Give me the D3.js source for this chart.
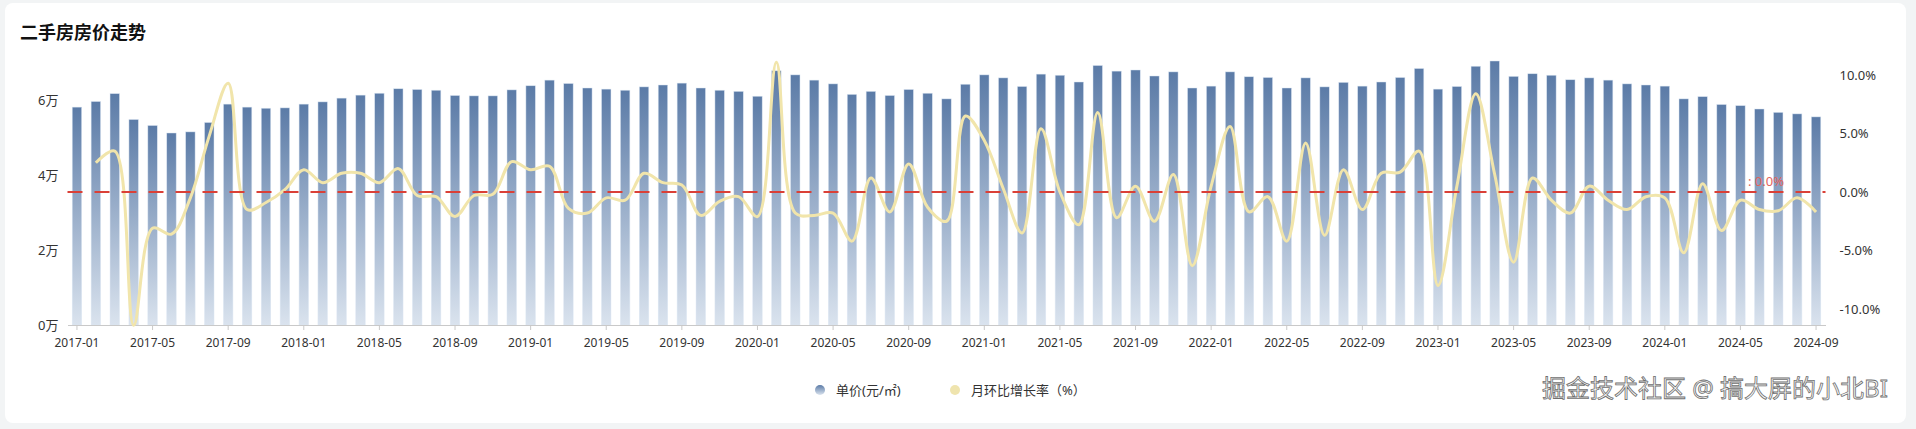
<!DOCTYPE html>
<html>
<head>
<meta charset="utf-8">
<title>二手房房价走势</title>
<script src="https://cdn.jsdelivr.net/npm/d3@7"></script>
<style>
  body { margin: 0; background: #f2f4f5; }
  svg { display: block; font-family: "Noto Sans", "Noto Sans CJK SC", sans-serif; }
</style>
</head>
<body>
<script>

// months on the x axis, one bar per month
var firstMonth = "2017-01", lastMonth = "2024-09";

// unit price (yuan / m2)
var price = [
    58100, 59600, 61700, 54800, 53200, 51200, 51500, 54000, 58900, 58100,
    57800, 57900, 58900, 59500, 60500, 61300, 61800, 63000, 62800, 62600,
    61200, 61100, 61100, 62700, 63800, 65300, 64400, 63200, 62900, 62600,
    63500, 64000, 64500, 63200, 62600, 62300, 61000, 67800, 66700, 65300,
    64300, 61500, 62300, 61200, 62800, 61800, 60300, 64200, 66700, 65900,
    63600, 66900, 66600, 64800, 69200, 67700, 68000, 66400, 67500, 63200,
    63700, 67500, 66200, 66000, 63200, 65900, 63500, 64700, 63700, 64800,
    66000, 68400, 62900, 63600, 69000, 70400, 66300, 67000, 66600, 65400,
    65900, 65300, 64300, 64000, 63700, 60300, 60900, 58800, 58500, 57600,
    56700, 56300, 55500
];

// month on month change (%), first month has none
var mom = [
    null, 2.5, 3.5, -11.4, -3.1, -3.6, -0.5, 4.8, 9.3, -1.5,
    -0.9, 0.2, 1.9, 0.8, 1.6, 1.6, 0.8, 2.0, -0.3, -0.4,
    -2.1, -0.3, -0.2, 2.6, 1.9, 2.2, -1.4, -1.8, -0.5, -0.7,
    1.6, 0.8, 0.6, -2.0, -0.8, -0.4, -2.1, 11.1, -1.8, -2.0,
    -1.8, -4.2, 1.2, -1.7, 2.4, -1.3, -2.5, 6.5, 4.4, 0.3,
    -3.5, 5.4, 0.0, -2.8, 6.8, -2.2, 0.5, -2.5, 1.5, -6.3,
    0.5, 5.6, -1.7, -0.4, -4.2, 4.2, -3.7, 1.9, -1.5, 1.6,
    1.7, 3.5, -8.0, 0.5, 8.4, 1.5, -6.0, 1.2, -0.7, -1.8,
    0.5, -0.7, -1.5, -0.4, -0.5, -5.2, 0.7, -3.3, -0.7, -1.5,
    -1.6, -0.5, -1.7
];

var leftTicks = [0, 20000, 40000, 60000];
var rightTicks = [-10, -5, 0, 5, 10];
var markValue = 0;
var seriesNames = ["单价(元/㎡)", "月环比增长率（%）"];

var W = 1916, H = 429;
var margin = {top: 61, left: 67.5, right: 90.5, bottom: 104};

var parseMonth = d3.timeParse("%Y-%m");
var months = d3.timeMonth
    .range(parseMonth(firstMonth), d3.timeMonth.offset(parseMonth(lastMonth), 1))
    .map(d3.timeFormat("%Y-%m"));

var svg = d3.select("body").append("svg")
    .attr("width", W)
    .attr("height", H);

// gradients
var defs = svg.append("defs");
var barGrad = defs.append("linearGradient")
    .attr("id", "barGrad")
    .attr("x1", 0).attr("y1", 0).attr("x2", 0).attr("y2", 1);
barGrad.append("stop").attr("offset", "0%").attr("stop-color", "#5b7ba7");
barGrad.append("stop").attr("offset", "100%").attr("stop-color", "#dae3ee");

// white card
svg.append("rect")
    .attr("x", 5).attr("y", 3)
    .attr("width", 1901).attr("height", 420)
    .attr("rx", 8)
    .attr("fill", "#fff");

// title
svg.append("text")
    .attr("x", 20).attr("y", 39)
    .attr("font-size", "18px").attr("font-weight", "bold").attr("fill", "#111")
    .text("二手房房价走势");

// scales
var x = d3.scaleBand()
    .domain(months)
    .range([margin.left, W - margin.right])
    .padding(0);

var yLeft = d3.scaleLinear()
    .domain([0, 70400])
    .range([H - margin.bottom, margin.top]);

var yRight = d3.scaleLinear()
    .domain([-11.37, 11.2])
    .range([H - margin.bottom, margin.top]);

var bw = x.bandwidth();

// bars
svg.append("g").selectAll("rect")
    .data(price).enter().append("rect")
    .attr("x", function(d, i) { return x(months[i]) + bw * 0.25; })
    .attr("y", function(d) { return yLeft(d); })
    .attr("width", bw * 0.5)
    .attr("height", function(d) { return yLeft(0) - yLeft(d); })
    .attr("fill", "url(#barGrad)")
    .attr("stroke", "rgba(220,230,243,0.8)")
    .attr("stroke-width", 0.6);

// x axis
var xaxis = d3.axisBottom(x)
    .tickValues(months.filter(function(d, i) { return i % 4 == 0; }))
    .tickSize(5)
    .tickSizeOuter(0)
    .tickPadding(8);

var gx = svg.append("g")
    .attr("transform", "translate(0," + yLeft(0) + ")")
    .call(xaxis);
gx.select(".domain").attr("stroke", "#c9c9c9");
gx.selectAll(".tick line").attr("stroke", "#c9c9c9");
gx.selectAll("text").attr("fill", "#333").attr("font-size", "12px")
    .attr("font-family", "\"Noto Sans\", \"Noto Sans CJK SC\", sans-serif");

// left labels
svg.append("g").selectAll("text")
    .data(leftTicks).enter().append("text")
    .attr("x", margin.left - 9)
    .attr("y", function(d) { return yLeft(d); })
    .attr("dy", "0.35em")
    .attr("text-anchor", "end")
    .attr("font-size", "13px").attr("fill", "#333")
    .text(function(d) { return (d / 10000) + "万"; });

// right labels
svg.append("g").selectAll("text")
    .data(rightTicks).enter().append("text")
    .attr("x", W - margin.right + 14)
    .attr("y", function(d) { return yRight(d); })
    .attr("dy", "0.35em")
    .attr("text-anchor", "start")
    .attr("font-size", "13px").attr("fill", "#333")
    .text(function(d) { return d.toFixed(1) + "%"; });

// growth line
var line = d3.line()
    .defined(function(d) { return d != null; })
    .x(function(d, i) { return x(months[i]) + bw / 2; })
    .y(function(d) { return yRight(d); })
    .curve(d3.curveCatmullRom.alpha(0.5));

svg.append("path")
    .datum(mom)
    .attr("d", line)
    .attr("fill", "none")
    .attr("stroke", "#f1e5ab")
    .attr("stroke-width", 3)
    .attr("stroke-linejoin", "round");

// zero mark line
svg.append("line")
    .attr("x1", margin.left).attr("x2", W - margin.right)
    .attr("y1", yRight(markValue)).attr("y2", yRight(markValue))
    .attr("stroke", "#da4037")
    .attr("stroke-width", 2)
    .attr("stroke-dasharray", "15,12");

svg.append("text")
    .attr("x", 1784).attr("y", yRight(markValue) - 6)
    .attr("text-anchor", "end")
    .attr("font-size", "13px").attr("fill", "#e3645c")
    .text(": " + markValue.toFixed(1) + "%");

// legend
var legendColors = ["url(#barGrad)", "#efe4ae"];
var legendX = [820, 955];
var legend = svg.append("g").selectAll("g")
    .data(seriesNames).enter().append("g")
    .attr("transform", function(d, i) { return "translate(" + legendX[i] + ",390)"; });
legend.append("circle")
    .attr("r", 5)
    .attr("fill", function(d, i) { return legendColors[i]; });
legend.append("text")
    .attr("x", 16).attr("dy", "0.35em")
    .attr("font-size", "13px").attr("fill", "#333")
    .text(function(d) { return d; });

// watermark
svg.append("text")
    .attr("x", 1542).attr("y", 389)
    .attr("dy", "0.35em")
    .attr("font-size", "24px")
    .attr("fill", "#fafafa")
    .attr("stroke", "#707070")
    .attr("stroke-width", 0.8)
    .text("掘金技术社区 @ 搞大屏的小北BI");

</script>
</body>
</html>
